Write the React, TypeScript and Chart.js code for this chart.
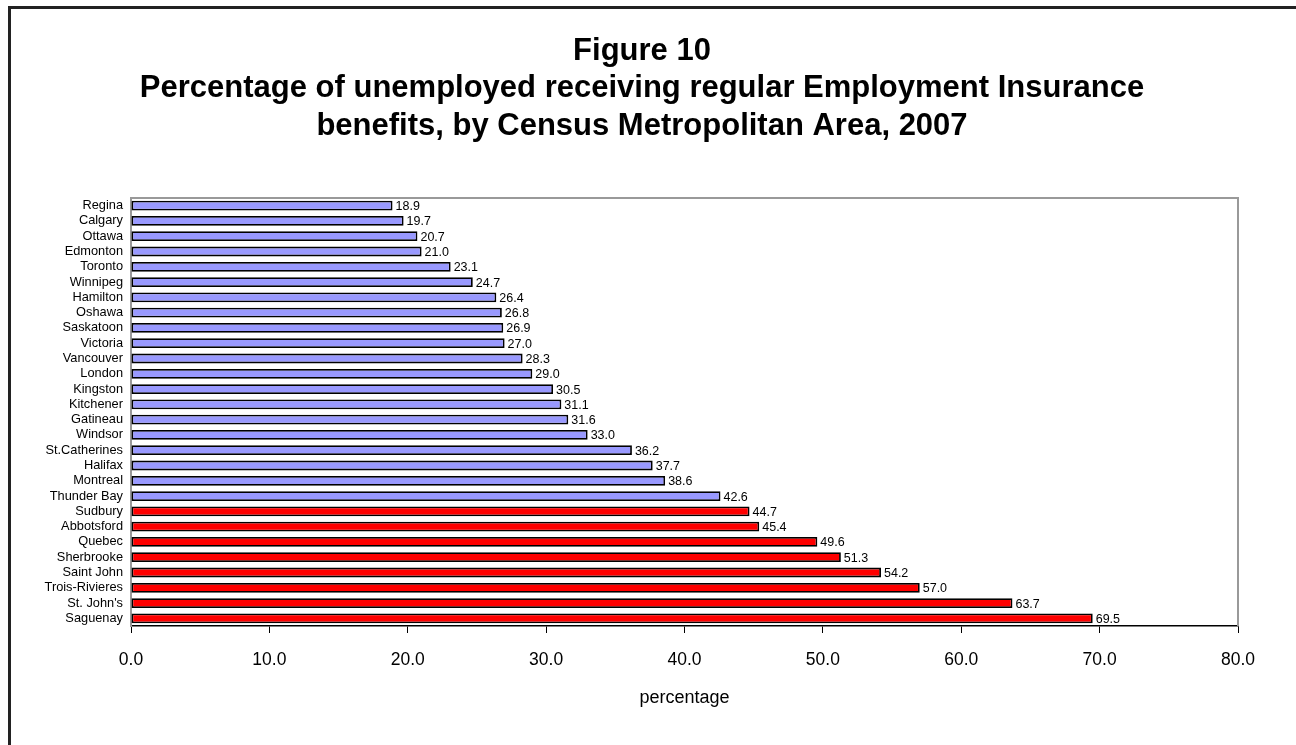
import React, { useEffect, useRef } from "react";
import { Chart, registerables } from "chart.js";

Chart.register(...registerables);

const categories = [
  "Regina", "Calgary", "Ottawa", "Edmonton", "Toronto", "Winnipeg", "Hamilton",
  "Oshawa", "Saskatoon", "Victoria", "Vancouver", "London", "Kingston", "Kitchener",
  "Gatineau", "Windsor", "St.Catherines", "Halifax", "Montreal", "Thunder Bay",
  "Sudbury", "Abbotsford", "Quebec", "Sherbrooke", "Saint John", "Trois-Rivieres",
  "St. John's", "Saguenay",
];

const values = [
  18.9, 19.7, 20.7, 21.0, 23.1, 24.7, 26.4, 26.8, 26.9, 27.0, 28.3, 29.0, 30.5, 31.1,
  31.6, 33.0, 36.2, 37.7, 38.6, 42.6, 44.7, 45.4, 49.6, 51.3, 54.2, 57.0, 63.7, 69.5,
];

// group: 0 = blue bars, 1 = red bars
const groups = [
  0, 0, 0, 0, 0, 0, 0, 0, 0, 0, 0, 0, 0, 0, 0, 0, 0, 0, 0, 0,
  1, 1, 1, 1, 1, 1, 1, 1,
];

const titleLines = [
  "Figure 10",
  "Percentage of unemployed receiving regular Employment Insurance",
  "benefits, by Census Metropolitan Area, 2007",
];

const xAxisTitle = "percentage";
const xMin = 0;
const xMax = 80;
const xStep = 10;

const FONT = "'Liberation Sans', Arial, Helvetica, sans-serif";

const framePlugin = {
  id: "frame",
  beforeDraw(chart: any) {
    const ctx = chart.ctx;
    ctx.save();
    ctx.fillStyle = "#ffffff";
    ctx.fillRect(0, 0, chart.width, chart.height);
    ctx.fillStyle = "#222222";
    ctx.fillRect(8, 6, 3, chart.height);
    ctx.fillRect(8, 6, chart.width, 3);
    ctx.restore();
  },
  beforeDatasetsDraw(chart: any) {
    const { ctx, chartArea } = chart;
    ctx.save();
    ctx.strokeStyle = "#999999";
    ctx.lineWidth = 2;
    ctx.beginPath();
    ctx.moveTo(chartArea.left, chartArea.top);
    ctx.lineTo(chartArea.right, chartArea.top);
    ctx.lineTo(chartArea.right, chartArea.bottom);
    ctx.stroke();
    ctx.restore();
  },
};

const titlePlugin = {
  id: "figureTitle",
  afterDraw(chart: any) {
    const ctx = chart.ctx;
    ctx.save();
    ctx.font = `bold 31px ${FONT}`;
    ctx.fillStyle = "#000000";
    ctx.textAlign = "center";
    ctx.textBaseline = "middle";
    titleLines.forEach((line, i) => {
      ctx.fillText(line, 642, 51 + i * 37.5);
    });
    ctx.restore();
  },
};

const valueLabelPlugin = {
  id: "valueLabels",
  afterDatasetsDraw(chart: any) {
    const ctx = chart.ctx;
    const meta = chart.getDatasetMeta(0);
    const data = chart.data.datasets[0].data as number[];
    ctx.save();
    ctx.font = `12.5px ${FONT}`;
    ctx.fillStyle = "#000000";
    ctx.textAlign = "left";
    ctx.textBaseline = "middle";
    meta.data.forEach((bar: any, i: number) => {
      ctx.fillText(data[i].toFixed(1), bar.x + 3, bar.y + 1);
    });
    ctx.restore();
  },
};

export default function App() {
  const canvasRef = useRef<HTMLCanvasElement | null>(null);

  useEffect(() => {
    document.body.style.margin = "0";
    document.body.style.overflow = "hidden";
    const canvas = canvasRef.current;
    if (!canvas) return;
    Chart.defaults.font.family = FONT;
    const chart = new Chart(canvas, {
      type: "bar",
      data: {
        labels: categories,
        datasets: [
          {
            data: values,
            backgroundColor: groups.map((g) => (g === 1 ? "#FF0000" : "#9999FF")),
            borderColor: "#000000",
            borderWidth: 1.8,
            borderSkipped: false,
            barPercentage: 0.64,
            categoryPercentage: 1,
          },
        ],
      },
      options: {
        indexAxis: "y",
        responsive: false,
        animation: false,
        layout: { padding: { left: 14, right: 58, top: 198, bottom: 0 } },
        plugins: {
          legend: { display: false },
          tooltip: { enabled: false },
          title: { display: false },
        },
        scales: {
          x: {
            type: "linear",
            position: "bottom",
            min: xMin,
            max: xMax,
            ticks: {
              stepSize: xStep,
              color: "#000000",
              font: { size: 17.5 },
              padding: 17,
              callback: (v: any) => Number(v).toFixed(1),
            },
            grid: {
              drawOnChartArea: false,
              drawTicks: true,
              tickLength: 7,
              color: "#000000",
              lineWidth: 1,
            },
            border: { display: true, color: "#000000", width: 1.5 },
            title: {
              display: true,
              text: xAxisTitle,
              color: "#000000",
              font: { size: 18 },
              padding: { top: 0, bottom: 36 },
            },
            afterFit: (scale: any) => {
              scale.height = 119;
            },
          },
          y: {
            type: "category",
            grid: { display: false, drawTicks: false },
            border: { display: true, color: "#999999", width: 2 },
            ticks: {
              color: "#000000",
              font: { size: 12.8 },
              autoSkip: false,
              padding: 8,
            },
            afterFit: (scale: any) => {
              scale.width = 117;
            },
          },
        },
      },
      plugins: [framePlugin, valueLabelPlugin, titlePlugin],
    });
    return () => chart.destroy();
  }, []);

  return (
    <div style={{ width: 1296, height: 745, position: "relative", overflow: "hidden" }}>
      <canvas ref={canvasRef} width={1296} height={745} style={{ display: "block" }} />
    </div>
  );
}
